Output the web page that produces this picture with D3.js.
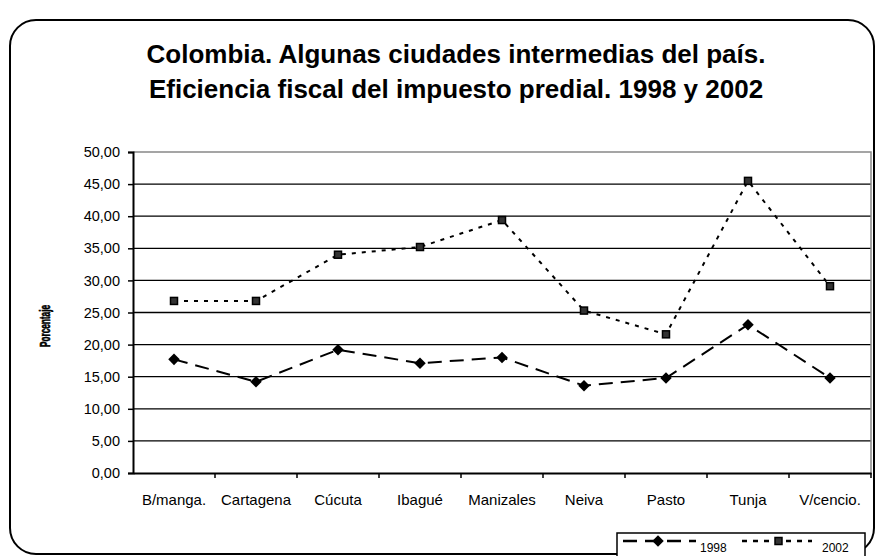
<!DOCTYPE html>
<html>
  <head>
    <meta charset="utf-8">
    <script src="https://d3js.org/d3.v7.min.js"></script>
    <style>
      body { margin: 0; background-color: white; }
      text { font-family: "Liberation Sans", Arial, sans-serif; }
    </style>
  </head>
  <body>
    <svg id="canvas" width="878" height="556"></svg>
    <script>
      // chart data
      const cities = ['B/manga.', 'Cartagena', 'Cúcuta', 'Ibagué', 'Manizales', 'Neiva', 'Pasto', 'Tunja', 'V/cencio.']
      const values1998 = [17.7, 14.2, 19.2, 17.1, 18.0, 13.6, 14.8, 23.1, 14.8]
      const values2002 = [26.8, 26.8, 34.0, 35.2, 39.4, 25.3, 21.6, 45.5, 29.1]
      const yTicks = [0, 5, 10, 15, 20, 25, 30, 35, 40, 45, 50]
      const titleLines = ['Colombia. Algunas ciudades intermedias del país.', 'Eficiencia fiscal del impuesto predial. 1998 y 2002']

      const margin = { top: 152, right: 7, bottom: 83, left: 133 }
      const svg = d3.select('#canvas')
      const width = 878 - margin.left - margin.right
      const height = 556 - margin.top - margin.bottom
      const font = '"Liberation Sans", Arial, sans-serif'

      // outer frame
      svg.append('rect')
        .attr('x', 10).attr('y', 20)
        .attr('width', 864).attr('height', 534)
        .attr('rx', 26).attr('ry', 26)
        .attr('fill', 'white')
        .attr('stroke', 'black')
        .attr('stroke-width', 2)

      // title
      svg.append('g').selectAll('text').data(titleLines).enter()
        .append('text')
          .attr('x', 456)
          .attr('y', (d, i) => 63 + i * 35)
          .attr('text-anchor', 'middle')
          .attr('font-size', 26)
          .attr('font-weight', 'bold')
          .text(d => d)

      const g = svg.append('g').attr('transform', `translate(${margin.left}, ${margin.top})`)

      const x = d3.scaleBand().domain(cities).range([0, width])
      const y = d3.scaleLinear().domain([0, 50]).range([height, 0])

      // gridlines
      g.append('g').selectAll('line').data(yTicks.filter(d => d > 0 && d < 50)).enter()
        .append('line')
          .attr('x1', 0).attr('x2', width)
          .attr('y1', d => y(d)).attr('y2', d => y(d))
          .attr('stroke', 'black').attr('stroke-width', 1.3)

      // plot area border (top/right)
      g.append('path')
        .attr('d', `M0,${y(50)}H${width}V${height}`)
        .attr('fill', 'none')
        .attr('stroke', '#888')
        .attr('stroke-width', 1.5)

      // y axis
      const yAxis = g.append('g')
        .call(d3.axisLeft(y).tickValues(yTicks).tickSize(5).tickFormat(d => d3.format('.2f')(d).replace('.', ',')))
      yAxis.select('.domain').attr('stroke-width', 2)
      yAxis.selectAll('.tick line').attr('stroke-width', 1.5)
      yAxis.selectAll('text').attr('font-size', 14.5).attr('x', -13).attr('fill', 'black')
        .style('font-family', font)

      // x axis
      const xAxis = g.append('g')
        .attr('transform', `translate(0, ${height})`)
        .call(d3.axisBottom(x).tickSize(0).tickPadding(21))
      xAxis.select('.domain').attr('stroke-width', 2)
      xAxis.selectAll('text').attr('font-size', 15).attr('fill', 'black')
        .style('font-family', font)

      // category separator ticks
      g.append('g').selectAll('line').data(cities).enter()
        .append('line')
          .attr('x1', d => x(d) + x.bandwidth())
          .attr('x2', d => x(d) + x.bandwidth())
          .attr('y1', height).attr('y2', height + 5)
          .attr('stroke', 'black').attr('stroke-width', 1.5)

      // y axis title
      svg.append('text')
        .attr('transform', 'translate(50, 326) rotate(-90)')
        .attr('text-anchor', 'middle')
        .attr('font-size', 14)
        .attr('font-weight', 'bold')
        .attr('stroke', 'black')
        .attr('stroke-width', 0.6)
        .attr('textLength', 42)
        .attr('lengthAdjust', 'spacingAndGlyphs')
        .text('Porcentaje')

      const cx = (d, i) => x(cities[i]) + x.bandwidth() / 2
      const line = d3.line().x(cx).y(d => y(d))

      // series 2002
      g.append('path')
        .datum(values2002)
        .attr('d', line)
        .attr('fill', 'none')
        .attr('stroke', 'black')
        .attr('stroke-width', 2)
        .attr('stroke-dasharray', '4,6')

      g.append('g').selectAll('rect').data(values2002).enter()
        .append('rect')
          .attr('x', (d, i) => cx(d, i) - 3.5)
          .attr('y', d => y(d) - 3.5)
          .attr('width', 7).attr('height', 7)
          .attr('fill', '#333')
          .attr('stroke', 'black')
          .attr('stroke-width', 1.5)

      // series 1998
      g.append('path')
        .datum(values1998)
        .attr('d', line)
        .attr('fill', 'none')
        .attr('stroke', 'black')
        .attr('stroke-width', 2)
        .attr('stroke-dasharray', '14,8')

      const diamond = d3.symbol().type(d3.symbolDiamond2).size(85)
      g.append('g').selectAll('path').data(values1998).enter()
        .append('path')
          .attr('d', diamond)
          .attr('transform', (d, i) => `translate(${cx(d, i)}, ${y(d)})`)
          .attr('fill', 'black')

      // legend
      const legend = svg.append('g')
      legend.append('rect')
        .attr('x', 617).attr('y', 533)
        .attr('width', 248).attr('height', 40)
        .attr('fill', 'white')
        .attr('stroke', 'black')
        .attr('stroke-width', 1.5)

      legend.append('line')
        .attr('x1', 623).attr('x2', 696).attr('y1', 541).attr('y2', 541)
        .attr('stroke', 'black').attr('stroke-width', 2.5).attr('stroke-dasharray', '14,8')
      legend.append('path')
        .attr('d', diamond)
        .attr('transform', 'translate(658, 541)')
      legend.append('text')
        .attr('x', 700).attr('y', 552)
        .attr('font-size', 12)
        .text('1998')

      legend.append('line')
        .attr('x1', 742).attr('x2', 812).attr('y1', 541).attr('y2', 541)
        .attr('stroke', 'black').attr('stroke-width', 2.5).attr('stroke-dasharray', '5,6')
      legend.append('rect')
        .attr('x', 775).attr('y', 537.5).attr('width', 7).attr('height', 7)
        .attr('fill', '#333').attr('stroke', 'black').attr('stroke-width', 1.5)
      legend.append('text')
        .attr('x', 822).attr('y', 552)
        .attr('font-size', 12)
        .text('2002')
    </script>
  </body>
</html>
